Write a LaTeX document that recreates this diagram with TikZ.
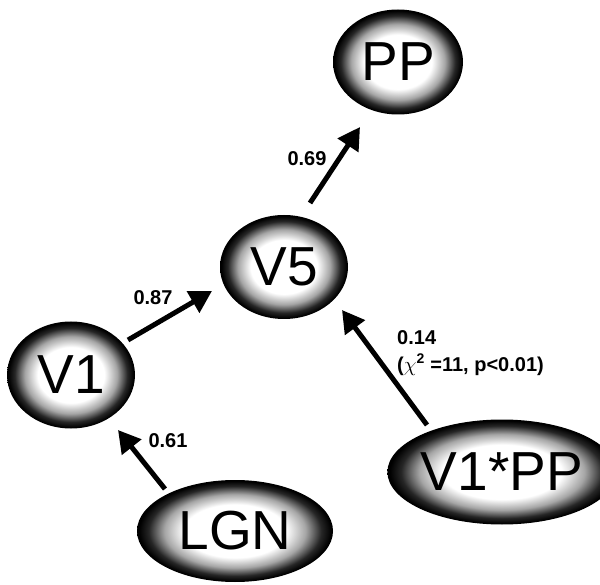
\documentclass[tikz,border=0pt]{standalone}
\usepackage{fontspec}
\setmainfont{Liberation Sans}
\usetikzlibrary{shapes.geometric,arrows.meta,calc}
\pgfdeclareradialshading{blobshade}{\pgfpoint{0bp}{0bp}}{color(0bp)=(white); color(13bp)=(white); color(18bp)=(black!35); color(22bp)=(black!85); color(24.5bp)=(black); color(50bp)=(black)}
\begin{document}
\begin{tikzpicture}[x=1pt,y=-1pt,
  blob/.style={ellipse, inner sep=0pt, shading=blobshade, font=\fontsize{55}{55}\selectfont},
  conn/.style={line width=5pt, -{Triangle[length=22pt,width=24pt]}},
  wlab/.style={font=\fontsize{20}{27}\selectfont\bfseries, inner sep=0pt},
]
\fill[white] (0,0) rectangle (600,585);
\useasboundingbox (0,0) rectangle (600,585);
\node[blob, minimum width=130pt, minimum height=105pt] (pp) at (398,62) {PP};
\node[blob, minimum width=128pt, minimum height=104pt] (v5) at (284,267) {V5};
\node[blob, minimum width=128pt, minimum height=107pt] (v1) at (71,375) {V1};
\node[blob, minimum width=196pt, minimum height=102pt] (lgn) at (235,531) {LGN};
\node[blob, minimum width=194pt, minimum height=105pt] (v1pp) at (502,472) {V1*PP};
\draw[conn] ($(v1)+(57,-35)$) -- ($(v5)+(-72,24)$);
\draw[conn] ($(v5)+(26,-64)$) -- ($(pp)+(-38,65)$);
\draw[conn] ($(lgn)+(-70,-42)$) -- ($(v1)+(47,55)$);
\draw[conn] ($(v1pp)+(-75,-47)$) -- ($(v5)+(58,43)$);
\node[wlab] (l87) at (153,298) {0.87};
\node[wlab] (l69) at (307,159) {0.69};
\node[wlab] (l61) at (168,441) {0.61};
\node[wlab, anchor=north west, align=left] (l14) at (397,330) {0.14\\($\chi$\textsuperscript{2} =11, p<0.01)};
\end{tikzpicture}
\end{document}
